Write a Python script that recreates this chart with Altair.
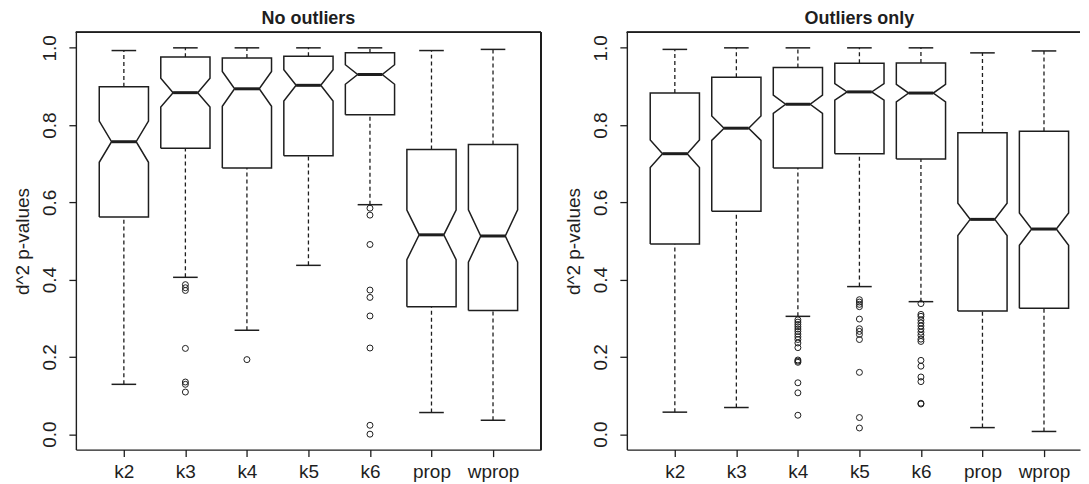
import json
import math
import altair as alt
import pandas as pd

groups = ["k2", "k3", "k4", "k5", "k6", "prop", "wprop"]

# ---- Panel 1: No outliers ----
no_lo = [0.129, 0.406, 0.269, 0.437, 0.594, 0.056, 0.036]
no_q1 = [0.562, 0.740, 0.689, 0.721, 0.827, 0.330, 0.320]
no_med = [0.757, 0.884, 0.894, 0.903, 0.931, 0.516, 0.513]
no_q3 = [0.899, 0.976, 0.974, 0.978, 0.987, 0.737, 0.750]
no_hi = [0.993, 1.000, 1.000, 1.000, 1.000, 0.993, 0.996]
no_n = 100
no_out_k3 = [0.387, 0.379, 0.372, 0.222, 0.135, 0.129, 0.109]
no_out_k4 = [0.193]
no_out_k6 = [0.585, 0.567, 0.491, 0.373, 0.354, 0.306, 0.223, 0.023, 0.0]
no_outliers = {"k3": no_out_k3, "k4": no_out_k4, "k6": no_out_k6}

# ---- Panel 2: Outliers only ----
oo_lo = [0.057, 0.069, 0.305, 0.382, 0.343, 0.017, 0.007]
oo_q1 = [0.492, 0.577, 0.689, 0.726, 0.712, 0.319, 0.326]
oo_med = [0.726, 0.792, 0.854, 0.886, 0.883, 0.556, 0.531]
oo_q3 = [0.883, 0.924, 0.949, 0.960, 0.961, 0.780, 0.784]
oo_hi = [0.996, 1.000, 1.000, 1.000, 1.000, 0.987, 0.992]
oo_n = 300
oo_out_k4 = [0.296, 0.290, 0.284, 0.278, 0.272, 0.266, 0.259, 0.252, 0.245,
             0.236, 0.224, 0.192, 0.189, 0.186, 0.133, 0.107, 0.049]
oo_out_k5 = [0.348, 0.342, 0.336, 0.330, 0.298, 0.273, 0.266, 0.258, 0.245,
             0.160, 0.043, 0.016]
oo_out_k6 = [0.338, 0.310, 0.305, 0.296, 0.288, 0.280, 0.272, 0.264, 0.256,
             0.246, 0.240, 0.191, 0.176, 0.148, 0.136, 0.080, 0.078]
oo_outliers = {"k4": oo_out_k4, "k5": oo_out_k5, "k6": oo_out_k6}

INK = "#1e1e1e"
FONT = "Liberation Sans"
HALF = 0.4      # half box width (boxwex 0.8)
NOTCH = 0.2     # half width at notch
STAPLE = 0.2    # half staple width
UNIT = 466 / 7.56   # pixels per category step
HEIGHT = 418


def make_panel(title, lo, q1, med, q3, hi, n, outliers, width, right_border,
               title_dx):
    poly, stats, outs = [], [], []
    for i, g in enumerate(groups):
        pos = i + 1
        iqr = q3[i] - q1[i]
        d = 1.58 * iqr / math.sqrt(n)
        nl, nh, m = med[i] - d, med[i] + d, med[i]
        pts = [(pos - HALF, q1[i]), (pos - HALF, nl), (pos - NOTCH, m),
               (pos - HALF, nh), (pos - HALF, q3[i]), (pos + HALF, q3[i]),
               (pos + HALF, nh), (pos + NOTCH, m), (pos + HALF, nl),
               (pos + HALF, q1[i]), (pos - HALF, q1[i])]
        for k, (x, y) in enumerate(pts):
            poly.append({"g": g, "ord": k, "x": x, "y": y})
        stats.append({"g": g, "pos": pos, "lo": lo[i], "q1": q1[i], "med": m,
                      "q3": q3[i], "hi": hi[i],
                      "xl": pos - NOTCH, "xr": pos + NOTCH,
                      "sl": pos - STAPLE, "sr": pos + STAPLE})
        for v in outliers.get(g, []):
            outs.append({"g": g, "pos": pos, "v": v})

    poly_df = pd.DataFrame(poly)
    st = pd.DataFrame(stats)
    od = pd.DataFrame(outs)

    xmax = 0.22 + width / UNIT
    xscale = alt.Scale(domain=[0.22, xmax], nice=False, zero=False)
    yscale = alt.Scale(domain=[-0.04, 1.04], nice=False, zero=False)
    label_expr = json.dumps(groups) + "[datum.value - 1]"
    xaxis = alt.Axis(values=list(range(1, 8)), labelExpr=label_expr, title=None,
                     grid=False, domain=True, domainColor=INK, domainWidth=1.4,
                     tickSize=7, tickColor=INK, tickWidth=1.3,
                     labelFontSize=19, labelColor=INK, labelPadding=6,
                     labelFont=FONT)
    yaxis = alt.Axis(values=[0, 0.2, 0.4, 0.6, 0.8, 1.0], format=".1f",
                     title="d^2 p-values", grid=False, domain=True,
                     domainColor=INK, domainWidth=1.4,
                     tickSize=7, tickColor=INK, tickWidth=1.3, labelAngle=-90,
                     labelAlign="center", labelBaseline="bottom",
                     labelFontSize=19, labelColor=INK, labelPadding=9,
                     labelFont=FONT, titleFont=FONT, titleFontSize=19,
                     titleFontWeight="normal", titleColor=INK, titlePadding=8)

    boxes = alt.Chart(poly_df).mark_line(color=INK, strokeWidth=1.5).encode(
        x=alt.X("x:Q", scale=xscale, axis=xaxis),
        y=alt.Y("y:Q", scale=yscale, axis=yaxis),
        detail="g:N",
        order="ord:Q",
    )
    base = alt.Chart(st)
    whisk_up = base.mark_rule(color=INK, strokeWidth=1.3, strokeDash=[4, 3]).encode(
        x=alt.X("pos:Q", scale=xscale), y=alt.Y("q3:Q", scale=yscale), y2="hi:Q")
    whisk_dn = base.mark_rule(color=INK, strokeWidth=1.3, strokeDash=[4, 3]).encode(
        x=alt.X("pos:Q", scale=xscale), y=alt.Y("lo:Q", scale=yscale), y2="q1:Q")
    cap_up = base.mark_rule(color=INK, strokeWidth=1.5).encode(
        x=alt.X("sl:Q", scale=xscale), x2="sr:Q", y=alt.Y("hi:Q", scale=yscale))
    cap_dn = base.mark_rule(color=INK, strokeWidth=1.5).encode(
        x=alt.X("sl:Q", scale=xscale), x2="sr:Q", y=alt.Y("lo:Q", scale=yscale))
    median = base.mark_rule(color=INK, strokeWidth=3).encode(
        x=alt.X("xl:Q", scale=xscale), x2="xr:Q", y=alt.Y("med:Q", scale=yscale))
    pts = alt.Chart(od).mark_point(shape="circle", filled=False, size=36,
                                   color=INK, strokeWidth=1, opacity=1).encode(
        x=alt.X("pos:Q", scale=xscale), y=alt.Y("v:Q", scale=yscale))

    frame_top = alt.Chart(st).mark_rule(color=INK, strokeWidth=1.4).encode(
        x=alt.value(0), x2=alt.value(width), y=alt.value(0))
    layers = [frame_top, whisk_up, whisk_dn, cap_up, cap_dn, boxes, median, pts]
    if right_border:
        frame_right = alt.Chart(st).mark_rule(color=INK, strokeWidth=1.4).encode(
            x=alt.value(width), y=alt.value(0), y2=alt.value(HEIGHT))
        layers.insert(1, frame_right)

    return alt.layer(*layers).properties(
        width=width, height=HEIGHT,
        title=alt.TitleParams(title, fontSize=18, fontWeight="bold", font=FONT,
                              color=INK, anchor="middle", offset=4, dx=title_dx),
    )


left = make_panel("No outliers", no_lo, no_q1, no_med, no_q3, no_hi, no_n,
                  no_outliers, 466, True, 0)
right = make_panel("Outliers only", oo_lo, oo_q1, oo_med, oo_q3, oo_hi, oo_n,
                   oo_outliers, 454, False, 6)

chart = alt.hconcat(left, right, spacing=22).properties(
    padding={"left": 5, "top": 1, "right": 0, "bottom": 0}
).configure_view(strokeWidth=0, stroke=None)

chart.save("out.html", embed_options={"renderer": "svg", "actions": False})
